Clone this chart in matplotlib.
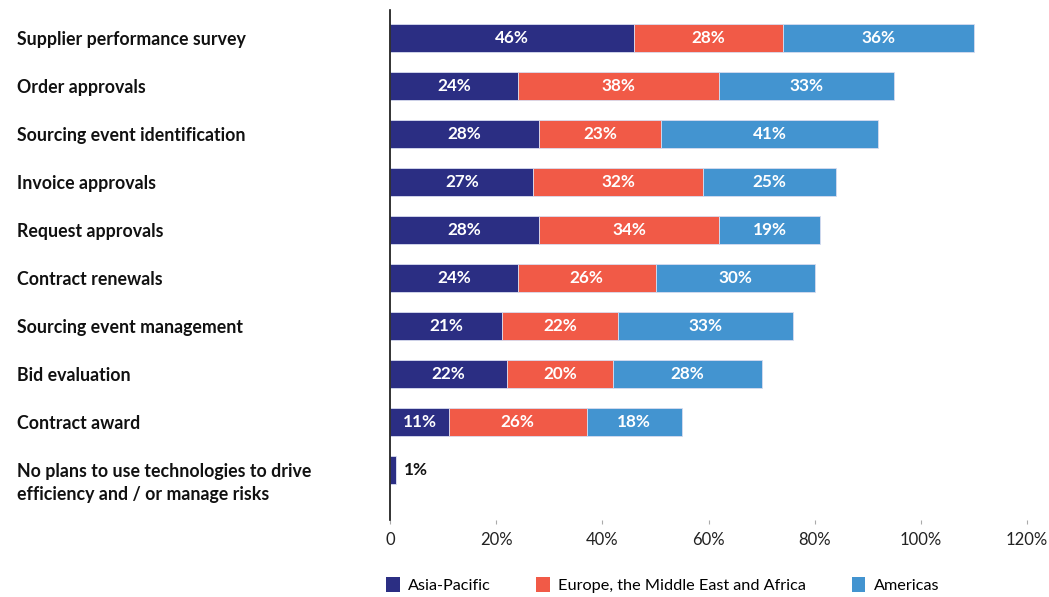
import numpy as np
import matplotlib.pyplot as plt
import matplotlib.transforms as mtransforms

plt.rcParams['font.family'] = ['Lato', 'DejaVu Sans']

categories = [
    "Supplier performance survey",
    "Order approvals",
    "Sourcing event identification",
    "Invoice approvals",
    "Request approvals",
    "Contract renewals",
    "Sourcing event management",
    "Bid evaluation",
    "Contract award",
    "No plans to use technologies to drive\nefficiency and / or manage risks",
]
asia_pacific = [46, 24, 28, 27, 28, 24, 21, 22, 11, 1]
emea = [28, 38, 23, 32, 34, 26, 22, 20, 26, 0]
americas = [36, 33, 41, 25, 19, 30, 33, 28, 18, 0]
series_names = ["Asia-Pacific", "Europe, the Middle East and Africa", "Americas"]
colors = ["#2b2e83", "#f15a47", "#4394d0"]
x_ticks = [0, 20, 40, 60, 80, 100, 120]
x_tick_labels = ["0", "20%", "40%", "60%", "80%", "100%", "120%"]

fig = plt.figure(figsize=(10.49, 5.97), dpi=100)
ax = fig.add_axes([0.372, 0.129, 0.607, 0.854])

y = np.arange(len(categories))
left = np.zeros(len(categories))
for vals, name, col in zip([asia_pacific, emea, americas], series_names, colors):
    vals = np.array(vals, dtype=float)
    ax.barh(y, vals, left=left, height=0.6, color=col, label=name,
            edgecolor='#d8dcef', linewidth=0.6)
    for i, v in enumerate(vals):
        if v >= 5:
            ax.text(left[i] + v / 2, y[i], f"{int(v)}%", ha='center', va='center',
                    color='white', fontsize=12.3, fontweight='bold')
        elif v > 0:
            ax.text(left[i] + v + 1.5, y[i], f"{int(v)}%", ha='left', va='center',
                    color='#111111', fontsize=12.3, fontweight='bold')
    left += vals

ax.set_xlim(0, 120)
ax.set_ylim(len(categories) - 1 + 1.04, -0.58)
ax.set_xticks(x_ticks)
ax.set_xticklabels(x_tick_labels, fontsize=12, color='#222222')
ax.set_yticks([])
ax.tick_params(axis='x', length=3, color='#aaaaaa', pad=6)
for s in ['top', 'right', 'bottom']:
    ax.spines[s].set_visible(False)
ax.spines['left'].set_color('#111111')
ax.spines['left'].set_linewidth(1.2)

# category labels: x in figure coords, y in data coords
trans = mtransforms.blended_transform_factory(fig.transFigure, ax.transData)
for i, cat in enumerate(categories):
    if "\n" in cat:
        fig.text(17 / 1049, y[i] - 0.14, cat, transform=trans, fontsize=12.8,
                 fontweight='bold', ha='left', va='top', color='#111111',
                 linespacing=1.4)
    else:
        fig.text(17 / 1049, y[i] + 0.04, cat, transform=trans, fontsize=12.8,
                 fontweight='bold', ha='left', va='center', color='#111111')

handles, labels = ax.get_legend_handles_labels()
leg = fig.legend(handles, labels, loc='lower left', bbox_to_anchor=(0.354, -0.018),
                 ncol=3, frameon=False, fontsize=11.7, handlelength=0.85,
                 handleheight=1.0, columnspacing=2.8, handletextpad=0.5)
for h in leg.legend_handles:
    h.set_edgecolor('none')

fig.savefig("out.png", dpi=100)
